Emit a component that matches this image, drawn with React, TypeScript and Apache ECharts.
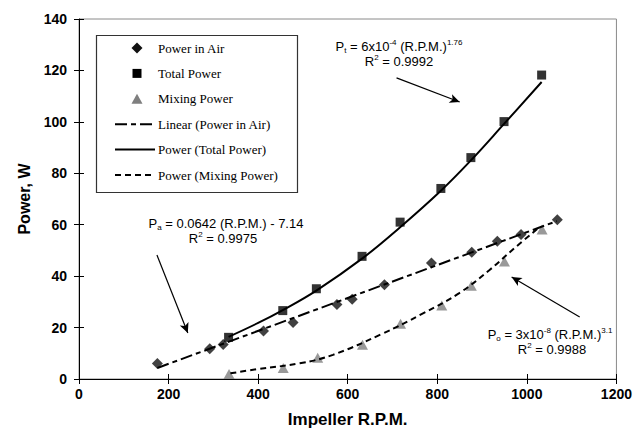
import React, { useEffect, useRef } from "react";
import * as echarts from "echarts";

// ---- Data ----
const rpmAir = [175, 292, 322, 412, 478, 576, 610, 682, 787, 877, 934, 987, 1068];
const powerAir = [6.0, 11.8, 13.4, 18.7, 22.0, 29.0, 31.0, 36.7, 45.1, 49.3, 53.6, 56.2, 61.9];

const rpmTotal = [334, 455, 530, 632, 717, 808, 875, 949, 1033];
const powerTotal = [16.2, 26.6, 35.1, 47.7, 61.0, 74.1, 86.1, 100.1, 118.2];

const rpmMix = [335, 456, 533, 633, 718, 810, 876, 950, 1034];
const powerMix = [1.9, 4.3, 8.3, 13.3, 21.5, 28.6, 36.3, 45.7, 58.1];

// trendlines as drawn in the picture
const rpmLinearFit = [175, 1067];
const powerLinearFit = [4.3, 61.4];

const rpmTotalFit = [334, 400, 455, 530, 632, 717, 808, 875, 949, 1033];
const powerTotalFit = [16.4, 21.8, 26.8, 34.4, 46.8, 59.0, 73.2, 85.0, 99.2, 115.5];

const rpmMixFit = [338, 397, 493, 567, 675, 767, 849, 916, 975, 1030];
const powerMixFit = [2.2, 3.8, 6.1, 9.4, 17.4, 25.4, 33.4, 42.3, 51.3, 59.3];

// annotation arrows in data coordinates [rpm, W]
const arrowTotal = [[709, 117.1], [850, 107.7]];
const arrowAir = [[174, 48.2], [243, 17.9]];
const arrowMix = [[1118, 24.1], [966, 39.7]];

const xTicks = { min: 0, max: 1200, interval: 200 };
const yTicks = { min: 0, max: 140, interval: 20 };

const legendNames = [
  "Power in Air",
  "Total Power",
  "Mixing Power",
  "Linear (Power in Air)",
  "Power (Total Power)",
  "Power (Mixing Power)",
];

const zip = (xs: number[], ys: number[]) => xs.map((x, i) => [x, ys[i]]);

const SANS = "Liberation Sans";
const SERIF = "Liberation Serif";

const DIAMOND = "#111";
const SQUARE = "#000";
const TRI = "#7f7f7f";
const DASH_LINEAR = [12, 4, 5, 4];
const DASH_MIX = [6, 4];

const rich = {
  n: { fontSize: 13, fontFamily: SANS, color: "#1a1a1a", lineHeight: 16 },
  sup: { fontSize: 8, fontFamily: SANS, color: "#1a1a1a", lineHeight: 16, verticalAlign: "top" },
  sub: { fontSize: 8, fontFamily: SANS, color: "#1a1a1a", lineHeight: 16, verticalAlign: "bottom" },
};

const annText = (x: number, y: number, text: string) => ({
  type: "text",
  x,
  y,
  silent: true,
  style: { text, rich, align: "center", verticalAlign: "middle" },
});

// legend drawn as a graphic group
const buildLegend = () => {
  const left = 96, top = 35, w = 201, h = 157;
  const iconX = 137, lineX0 = 115, lineX1 = 155, textX = 158;
  const rowY = (i: number) => 48 + i * 25.4;
  const children: any[] = [
    {
      type: "rect",
      shape: { x: left + 0.5, y: top + 0.5, width: w, height: h },
      style: { fill: "#fff", stroke: "#333", lineWidth: 1.2 },
    },
  ];
  const icons: any[] = [
    { type: "polygon", shape: { points: [[iconX, rowY(0) - 5.5], [iconX + 5.5, rowY(0)], [iconX, rowY(0) + 5.5], [iconX - 5.5, rowY(0)]] }, style: { fill: DIAMOND } },
    { type: "rect", shape: { x: iconX - 4.5, y: rowY(1) - 4.5, width: 9, height: 9 }, style: { fill: SQUARE } },
    { type: "polygon", shape: { points: [[iconX, rowY(2) - 5], [iconX + 5.5, rowY(2) + 5], [iconX - 5.5, rowY(2) + 5]] }, style: { fill: TRI } },
    { type: "line", shape: { x1: lineX0, y1: rowY(3), x2: lineX1, y2: rowY(3) }, style: { stroke: "#000", lineWidth: 2, lineDash: DASH_LINEAR } },
    { type: "line", shape: { x1: lineX0, y1: rowY(4), x2: lineX1, y2: rowY(4) }, style: { stroke: "#000", lineWidth: 2 } },
    { type: "line", shape: { x1: lineX0, y1: rowY(5), x2: lineX1, y2: rowY(5) }, style: { stroke: "#000", lineWidth: 2, lineDash: DASH_MIX } },
  ];
  children.push(...icons);
  legendNames.forEach((name, i) => {
    children.push({
      type: "text",
      x: textX,
      y: rowY(i),
      style: {
        text: name,
        fontFamily: SERIF,
        fontSize: 13,
        fill: "#000",
        align: "left",
        verticalAlign: "middle",
      },
    });
  });
  return { type: "group", silent: true, z: 10, children };
};

export default function App() {
  const ref = useRef<HTMLDivElement>(null);
  useEffect(() => {
    const chart = echarts.init(ref.current!, null, { renderer: "svg" });
    const axisLabel = {
      color: "#000",
      fontFamily: SANS,
      fontWeight: "bold",
      fontSize: 14,
      formatter: (v: number) => String(v),
    };
    const arrowLine = (pair: number[][]) => [{ coord: pair[0] }, { coord: pair[1] }];
    chart.setOption({
      animation: false,
      backgroundColor: "#fff",
      grid: {
        left: 79,
        top: 19,
        width: 538,
        height: 360,
        show: true,
        borderColor: "#8a8a8a",
        borderWidth: 1,
      },
      xAxis: [
        {
          type: "value",
          ...xTicks,
          position: "bottom",
          axisLine: { show: true, onZero: false, lineStyle: { color: "#000", width: 1 } },
          axisTick: { show: true, length: 5, lineStyle: { color: "#000" } },
          axisLabel: { ...axisLabel, margin: 8 },
          splitLine: { show: false },
          name: "Impeller R.P.M.",
          nameLocation: "middle",
          nameGap: 32,
          nameTextStyle: { color: "#000", fontFamily: SANS, fontWeight: "bold", fontSize: 17 },
        },
        {
          type: "value",
          ...xTicks,
          position: "bottom",
          axisLine: { show: false, onZero: false },
          axisTick: { show: true, inside: true, length: 5, lineStyle: { color: "#000" } },
          axisLabel: { show: false },
          splitLine: { show: false },
        },
      ],
      yAxis: [
        {
          type: "value",
          ...yTicks,
          position: "left",
          axisLine: { show: true, onZero: false, lineStyle: { color: "#000", width: 1 } },
          axisTick: { show: true, length: 5, lineStyle: { color: "#000" } },
          axisLabel: { ...axisLabel, margin: 12 },
          splitLine: { show: false },
          name: "Power, W",
          nameLocation: "middle",
          nameGap: 46,
          nameRotate: 90,
          nameTextStyle: { color: "#000", fontFamily: SANS, fontWeight: "bold", fontSize: 16 },
        },
        {
          type: "value",
          ...yTicks,
          position: "left",
          axisLine: { show: false, onZero: false },
          axisTick: { show: true, inside: true, length: 5, lineStyle: { color: "#000" } },
          axisLabel: { show: false },
          splitLine: { show: false },
        },
      ],
      series: [
        {
          name: legendNames[0],
          type: "scatter",
          data: zip(rpmAir, powerAir),
          symbol: "diamond",
          symbolSize: 11,
          itemStyle: { color: DIAMOND },
        },
        {
          name: legendNames[1],
          type: "scatter",
          data: zip(rpmTotal, powerTotal),
          symbol: "rect",
          symbolSize: 9,
          itemStyle: { color: SQUARE },
        },
        {
          name: legendNames[2],
          type: "scatter",
          data: zip(rpmMix, powerMix),
          symbol: "triangle",
          symbolSize: [11, 10],
          itemStyle: { color: TRI },
        },
        {
          name: legendNames[3],
          type: "line",
          data: zip(rpmLinearFit, powerLinearFit),
          symbol: "none",
          lineStyle: { color: "#000", width: 2, type: DASH_LINEAR },
          itemStyle: { color: "#000" },
          markLine: {
            silent: true,
            symbol: ["none", "arrow"],
            symbolSize: [7, 10],
            label: { show: false },
            lineStyle: { color: "#000", width: 1.2, type: "solid" },
            data: [arrowLine(arrowTotal), arrowLine(arrowAir), arrowLine(arrowMix)],
          },
        },
        {
          name: legendNames[4],
          type: "line",
          data: zip(rpmTotalFit, powerTotalFit),
          symbol: "none",
          smooth: 0.4,
          lineStyle: { color: "#000", width: 2, type: "solid" },
          itemStyle: { color: "#000" },
        },
        {
          name: legendNames[5],
          type: "line",
          data: zip(rpmMixFit, powerMixFit),
          symbol: "none",
          smooth: 0.4,
          lineStyle: { color: "#000", width: 2, type: DASH_MIX },
          itemStyle: { color: "#000" },
        },
      ],
      graphic: [
        buildLegend(),
        annText(399, 46, "{n|P}{sub|t}{n| = 6x10}{sup|-4}{n| (R.P.M.)}{sup|1.76}"),
        annText(399, 61, "{n|R}{sup|2}{n| = 0.9992}"),
        annText(226, 223, "{n|P}{sub|a}{n| = 0.0642 (R.P.M.) - 7.14}"),
        annText(223, 238, "{n|R}{sup|2}{n| = 0.9975}"),
        annText(550, 334, "{n|P}{sub|o}{n| = 3x10}{sup|-8}{n| (R.P.M.)}{sup|3.1}"),
        annText(552, 349, "{n|R}{sup|2}{n| = 0.9988}"),
      ],
    });
    return () => chart.dispose();
  }, []);
  return (
    <div
      ref={ref}
      style={{ position: "fixed", left: 0, top: 0, width: 635, height: 434 }}
    />
  );
}
